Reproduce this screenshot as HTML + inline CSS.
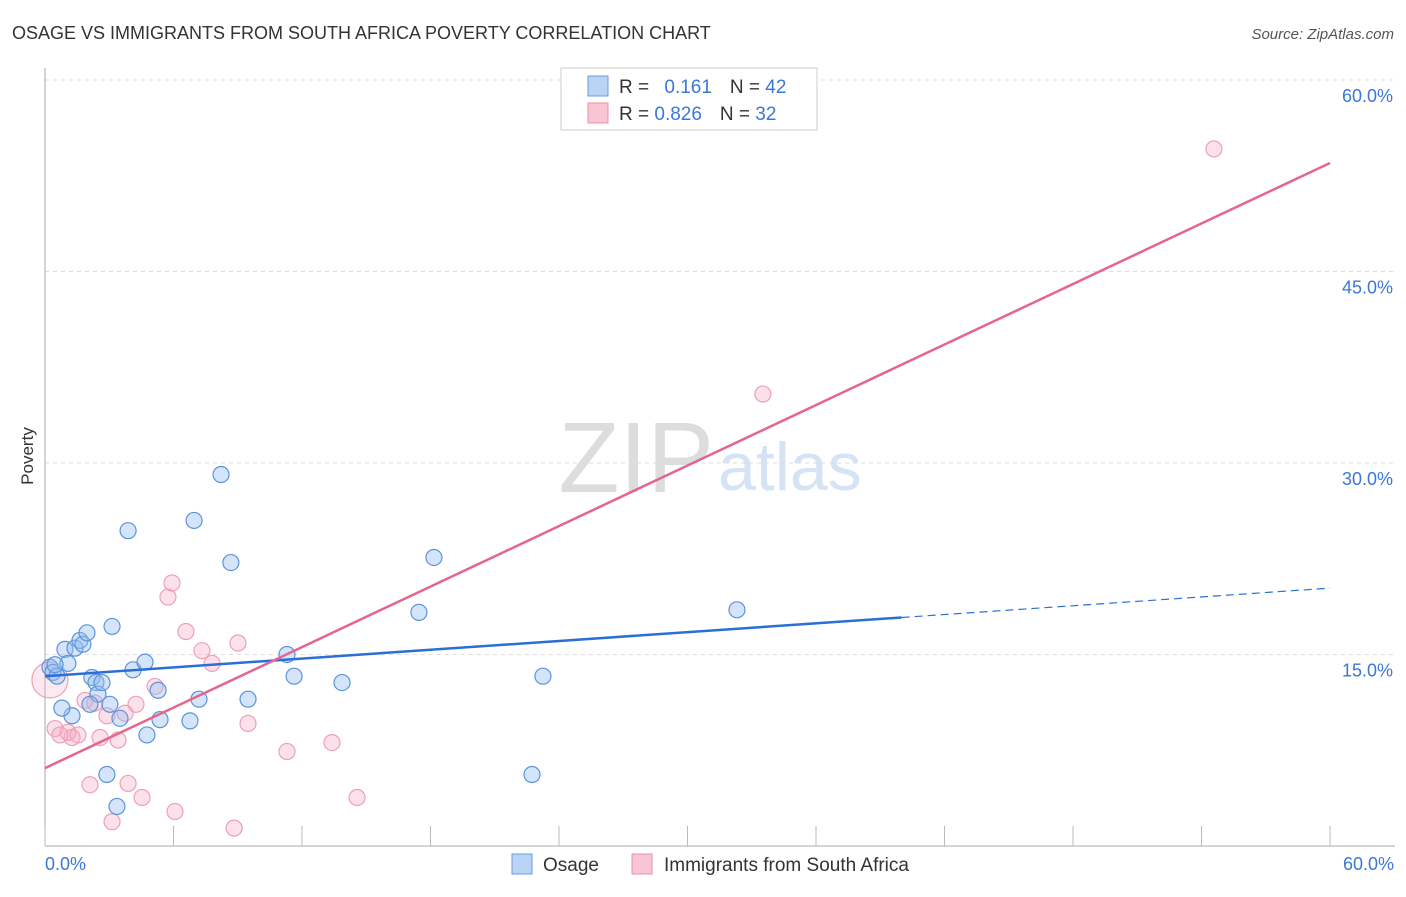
<!DOCTYPE html>
<html><head><meta charset="utf-8"><style>
body{margin:0;background:#fff;font-family:"Liberation Sans",sans-serif}
svg text{font-family:"Liberation Sans",sans-serif}
</style></head><body>
<svg width="1406" height="892">
<text x="12" y="39" font-size="18" fill="#333">OSAGE VS IMMIGRANTS FROM SOUTH AFRICA POVERTY CORRELATION CHART</text>
<text x="1394" y="39" font-size="15" fill="#555" font-style="italic" text-anchor="end">Source: ZipAtlas.com</text>
<text x="714" y="492" font-size="100" fill="#ddd" font-family="Liberation Serif" text-anchor="end">ZIP</text>
<text x="718" y="490" font-size="68" fill="#d5e3f5">atlas</text>
<g id="grid"></g><g id="axes"></g><g id="marks"></g>
<text transform="translate(33,456) rotate(-90)" font-size="17" fill="#333" text-anchor="middle">Poverty</text>
<text x="45" y="870" font-size="18" fill="#3a78d8">0.0%</text>
<text x="1394" y="870" font-size="18" fill="#3a78d8" text-anchor="end">60.0%</text>
<g>
<rect x="561" y="68" width="256" height="62" fill="#fff" stroke="#ccc"/>
<rect x="588" y="76" width="20" height="20" fill="#b9d4f5" stroke="#6b9de0"/>
<rect x="588" y="103" width="20" height="20" fill="#f9c5d5" stroke="#e890ab"/>
<text x="619" y="93" font-size="19" fill="#333">R = <tspan fill="#3a78d8" dx="10">0.161</tspan><tspan dx="18" fill="#333">N = </tspan><tspan fill="#3a78d8">42</tspan></text>
<text x="619" y="120" font-size="19" fill="#333">R = <tspan fill="#3a78d8">0.826</tspan><tspan dx="18" fill="#333">N = </tspan><tspan fill="#3a78d8">32</tspan></text>
</g>
<g>
<rect x="512" y="854" width="20" height="20" fill="#b9d4f5" stroke="#6b9de0"/>
<text x="543" y="871" font-size="19" fill="#333">Osage</text>
<rect x="632" y="854" width="20" height="20" fill="#f9c5d5" stroke="#e890ab"/>
<text x="664" y="871" font-size="19" fill="#333">Immigrants from South Africa</text>
</g>
</svg>
<script>
const yTicks=[15,30,45,60];
const blueX=[0.23,0.37,0.56,0.93,1.07,1.26,0.79,1.40,1.63,1.77,1.96,2.19,2.38,2.47,2.66,2.10,3.03,3.13,3.50,2.89,3.36,3.88,4.11,4.67,4.76,5.28,5.37,6.77,6.96,7.19,8.22,8.68,9.48,11.30,11.63,13.87,17.46,18.16,22.74,23.25,32.31,0.47];
const blueY=[14.0,13.6,13.3,15.4,14.3,10.2,10.8,15.5,16.1,15.8,16.7,13.2,12.8,11.9,12.8,11.1,11.1,17.2,10.0,5.6,3.1,24.7,13.8,14.4,8.7,12.2,9.9,9.8,25.5,11.5,29.1,22.2,11.5,15.0,13.3,12.8,18.3,22.6,5.6,13.3,18.5,14.2];
const pinkX=[0.23,0.47,1.07,1.26,1.54,1.87,2.10,2.57,2.89,3.13,3.41,3.74,3.88,4.25,4.53,5.14,5.74,5.93,6.07,6.58,7.33,7.80,8.83,9.01,9.48,11.30,13.40,14.57,33.52,54.58,0.70,2.33];
const pinkY=[13.0,9.2,8.9,8.5,8.7,11.4,4.8,8.5,10.2,1.9,8.3,10.4,4.9,11.1,3.8,12.5,19.5,20.6,2.7,16.8,15.3,14.3,1.4,15.9,9.6,7.4,8.1,3.8,35.4,54.6,8.7,11.2];
const blueTrend=[13.3,20.2];
const pinkTrend=[6.1,53.5];
const NS="http://www.w3.org/2000/svg";
const X=v=>45+v/60*1285, Y=v=>846-v/60*766;
function mk(tag,attrs,parent){const e=document.createElementNS(NS,tag);for(const k in attrs)e.setAttribute(k,attrs[k]);document.getElementById(parent).appendChild(e);return e;}
yTicks.forEach(t=>{
 const l=mk('line',{x1:45,x2:1395,y1:Y(t),y2:Y(t),stroke:'#ddd','stroke-dasharray':'4,4'},'grid');
 
 
 const tx=mk('text',{x:1393,y:Y(t)+22,'font-size':18,fill:'#3a78d8','text-anchor':'end'},'grid');
 tx.textContent=t.toFixed(1)+'%';
 
 
});
const ax=mk('line',{x1:45,x2:45,y1:68,y2:846,stroke:'#aaa'},'axes');


const bx=mk('line',{x1:45,x2:1395,y1:846,y2:846,stroke:'#aaa'},'axes');


for(let i=0;i<=10;i++){
 const t=mk('line',{x1:X(i*6),x2:X(i*6),y1:826,y2:846,stroke:'#bbb'},'axes');
 
 
}
pinkX.forEach((v,i)=>{
 const c=mk('circle',{cx:X(v),cy:Y(pinkY[i]),r:i==0?18:8,fill:i==0?'rgba(246,170,195,0.25)':'rgba(246,170,195,0.35)',stroke:'#eda0b8','stroke-width':1.2},'marks');
 
 
});
blueX.forEach((v,i)=>{
 const c=mk('circle',{cx:X(v),cy:Y(blueY[i]),r:8,fill:'rgba(150,190,240,0.4)',stroke:'#5b93dc','stroke-width':1.2},'marks');
 
 
});
const bs=(blueTrend[1]-blueTrend[0])/60;
const b1=mk('line',{x1:X(0),y1:Y(blueTrend[0]),x2:X(40),y2:Y(blueTrend[0]+bs*40),stroke:'#2a6fd6','stroke-width':2.5},'marks');


const b2=mk('line',{x1:X(40),y1:Y(blueTrend[0]+bs*40),x2:X(60),y2:Y(blueTrend[1]),stroke:'#2a6fd6','stroke-width':1.2,'stroke-dasharray':'8,5'},'marks');


const p=mk('line',{x1:X(0),y1:Y(pinkTrend[0]),x2:X(60),y2:Y(pinkTrend[1]),stroke:'#e5658f','stroke-width':2.5},'marks');


</script>
</body></html>
